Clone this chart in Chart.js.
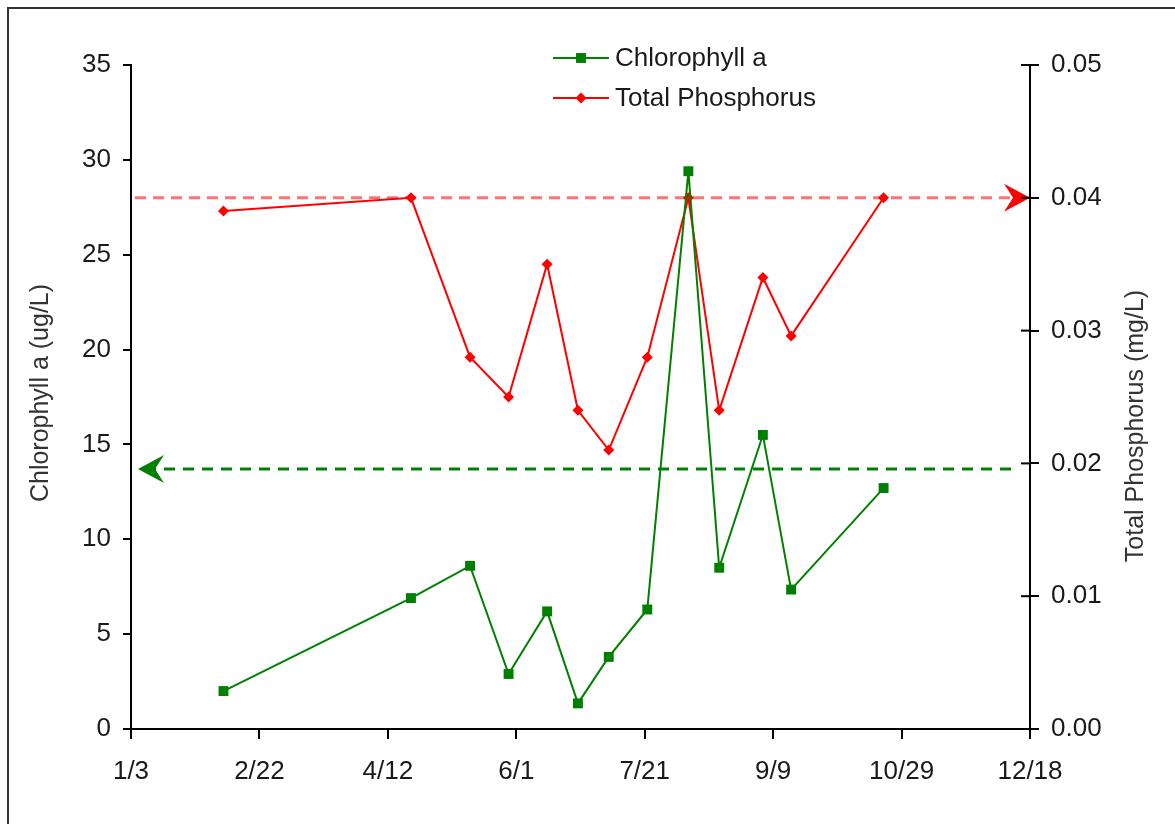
<!DOCTYPE html>
<html>
<head>
<meta charset="utf-8">
<title>Chlorophyll a and Total Phosphorus</title>
<script src="https://cdn.jsdelivr.net/npm/chart.js@4.4.1/dist/chart.umd.min.js"></script>
<style>
  html, body { margin: 0; padding: 0; background: #fff; overflow: hidden; }
  #wrap { position: relative; width: 1175px; height: 824px; }
  #frame { position: absolute; left: 7px; top: 7px; width: 1200px; height: 900px; border: 2px solid #333; box-sizing: border-box; pointer-events: none; }
  canvas { position: absolute; left: 0; top: 0; }
</style>
</head>
<body>
<div id="wrap">
  <canvas id="chart" width="1175" height="824"></canvas>
  <div id="frame"></div>
</div>
<script>
// Data
const sampleDates = ['2/8', '4/22', '5/15', '5/30', '6/14', '6/26', '7/8', '7/23', '8/8', '8/20', '9/6', '9/17', '10/23'];
const chlorophyll = [2.0, 6.9, 8.6, 2.9, 6.2, 1.35, 3.8, 6.3, 29.4, 8.5, 15.5, 7.35, 12.7];
const phosphorus = [0.039, 0.040, 0.028, 0.025, 0.035, 0.024, 0.021, 0.028, 0.040, 0.024, 0.034, 0.0296, 0.040];
const xTickLabels = ['1/3', '2/22', '4/12', '6/1', '7/21', '9/9', '10/29', '12/18'];
const chlLimit = 13.7;   // left axis
const tpLimit = 0.04;    // right axis

const FONT = '"Liberation Sans", Arial, sans-serif';

// days since 1/3 (non leap year, like the Excel axis)
function dayOf(md) {
  const [m, d] = md.split('/').map(Number);
  return (Date.UTC(2007, m - 1, d) - Date.UTC(2007, 0, 3)) / 86400000;
}

const chlPoints = sampleDates.map((d, i) => ({ x: dayOf(d), y: chlorophyll[i] }));
const tpPoints = sampleDates.map((d, i) => ({ x: dayOf(d), y: phosphorus[i] }));

function drawArrow(ctx, tipX, y, dir, color) {
  ctx.save();
  ctx.fillStyle = color;
  ctx.beginPath();
  ctx.moveTo(tipX, y);
  ctx.lineTo(tipX - dir * 26, y - 14);
  ctx.lineTo(tipX - dir * 17, y);
  ctx.lineTo(tipX - dir * 26, y + 14);
  ctx.closePath();
  ctx.fill();
  ctx.restore();
}

const extrasPlugin = {
  id: 'extras',
  beforeDatasetsDraw(chart) {
    const ctx = chart.ctx;
    const x = chart.scales.x, yL = chart.scales.y, yR = chart.scales.y1;

    // red limit line -> right axis
    const ry = yR.getPixelForValue(tpLimit);
    ctx.save();
    ctx.setLineDash([11, 7]);
    ctx.lineWidth = 3;
    ctx.strokeStyle = 'rgba(255,80,80,0.8)';
    ctx.beginPath();
    ctx.moveTo(x.left + 4, ry);
    ctx.lineTo(x.right - 10, ry);
    ctx.stroke();
    // green limit line -> left axis
    const gy = yL.getPixelForValue(chlLimit);
    ctx.setLineDash([11, 8]);
    ctx.strokeStyle = '#008000';
    ctx.beginPath();
    ctx.moveTo(x.left + 14, gy);
    ctx.lineTo(x.right - 14, gy);
    ctx.stroke();
    ctx.restore();

    drawArrow(ctx, x.right, ry, 1, '#ff0000');
    drawArrow(ctx, x.left + 7, gy, -1, '#008000');
  },
  afterDraw(chart) {
    const ctx = chart.ctx;
    const yL = chart.scales.y, yR = chart.scales.y1;

    // right axis ticks cross the axis
    ctx.save();
    ctx.strokeStyle = '#000';
    ctx.lineWidth = 2;
    yR.ticks.forEach(t => {
      const py = yR.getPixelForValue(t.value);
      ctx.beginPath();
      ctx.moveTo(yR.left - 9, py);
      ctx.lineTo(yR.left, py);
      ctx.stroke();
    });

    // axis titles
    ctx.fillStyle = '#333';
    ctx.font = '25px ' + FONT;
    ctx.textAlign = 'center';
    ctx.textBaseline = 'middle';
    ctx.translate(41, 393);
    ctx.rotate(-Math.PI / 2);
    ctx.fillText('Chlorophyll a (ug/L)', 0, 0);
    ctx.restore();

    ctx.save();
    ctx.fillStyle = '#333';
    ctx.font = '25px ' + FONT;
    ctx.textAlign = 'center';
    ctx.textBaseline = 'middle';
    ctx.translate(1136, 426);
    ctx.rotate(-Math.PI / 2);
    ctx.fillText('Total Phosphorus (mg/L)', 0, 0);
    ctx.restore();

    // legend
    const rows = [
      { label: 'Chlorophyll a', color: '#008000', style: 'rect', y: 58 },
      { label: 'Total Phosphorus', color: '#ff0000', style: 'rectRot', y: 98 }
    ];
    ctx.save();
    rows.forEach(r => {
      ctx.strokeStyle = r.color;
      ctx.lineWidth = 2;
      ctx.beginPath();
      ctx.moveTo(553, r.y);
      ctx.lineTo(609, r.y);
      ctx.stroke();
      ctx.fillStyle = r.color;
      Chart.helpers.drawPoint(ctx, { pointStyle: r.style, radius: r.style === 'rect' ? 7 : 5.5, borderWidth: 0 }, 581, r.y);
      ctx.fillStyle = '#1a1a1a';
      ctx.font = '26px ' + FONT;
      ctx.textAlign = 'left';
      ctx.textBaseline = 'middle';
      ctx.fillText(r.label, 615, r.y + 1);
    });
    ctx.restore();
  }
};

const tickFont = { family: FONT, size: 26 };

new Chart(document.getElementById('chart'), {
  type: 'line',
  data: {
    datasets: [
      {
        label: 'Chlorophyll a',
        data: chlPoints,
        yAxisID: 'y',
        borderColor: '#008000',
        backgroundColor: '#008000',
        borderWidth: 2,
        pointStyle: 'rect',
        pointRadius: 7,
        pointBorderWidth: 0,
        tension: 0
      },
      {
        label: 'Total Phosphorus',
        data: tpPoints,
        yAxisID: 'y1',
        borderColor: '#ff0000',
        backgroundColor: '#ff0000',
        borderWidth: 2,
        pointStyle: 'rectRot',
        pointRadius: 5.5,
        pointBorderWidth: 0,
        tension: 0
      }
    ]
  },
  options: {
    responsive: false,
    animation: false,
    layout: { padding: { top: 65, left: 0, right: 0, bottom: 0 } },
    plugins: { legend: { display: false }, tooltip: { enabled: false } },
    scales: {
      x: {
        type: 'linear',
        min: 0,
        max: 350,
        grid: { drawOnChartArea: false, color: '#000', lineWidth: 2, tickLength: 10 },
        border: { color: '#000', width: 2 },
        ticks: {
          stepSize: 50,
          color: '#1a1a1a',
          font: tickFont,
          padding: 17,
          maxRotation: 0,
          callback: v => xTickLabels[Math.round(v / 50)]
        },
        afterFit: s => { s.height = 95; }
      },
      y: {
        position: 'left',
        min: 0,
        max: 35,
        grid: { drawOnChartArea: false, color: '#000', lineWidth: 2, tickLength: 8 },
        border: { color: '#000', width: 2 },
        ticks: { stepSize: 5, color: '#1a1a1a', font: tickFont, padding: 12 },
        afterFit: s => { s.width = 131; }
      },
      y1: {
        position: 'right',
        min: 0,
        max: 0.05,
        grid: { drawOnChartArea: false, color: '#000', lineWidth: 2, tickLength: 9 },
        border: { color: '#000', width: 2 },
        ticks: { stepSize: 0.01, color: '#1a1a1a', font: tickFont, padding: 12, callback: v => v.toFixed(2) },
        afterFit: s => { s.width = 145; }
      }
    }
  },
  plugins: [extrasPlugin]
});
</script>
</body>
</html>
